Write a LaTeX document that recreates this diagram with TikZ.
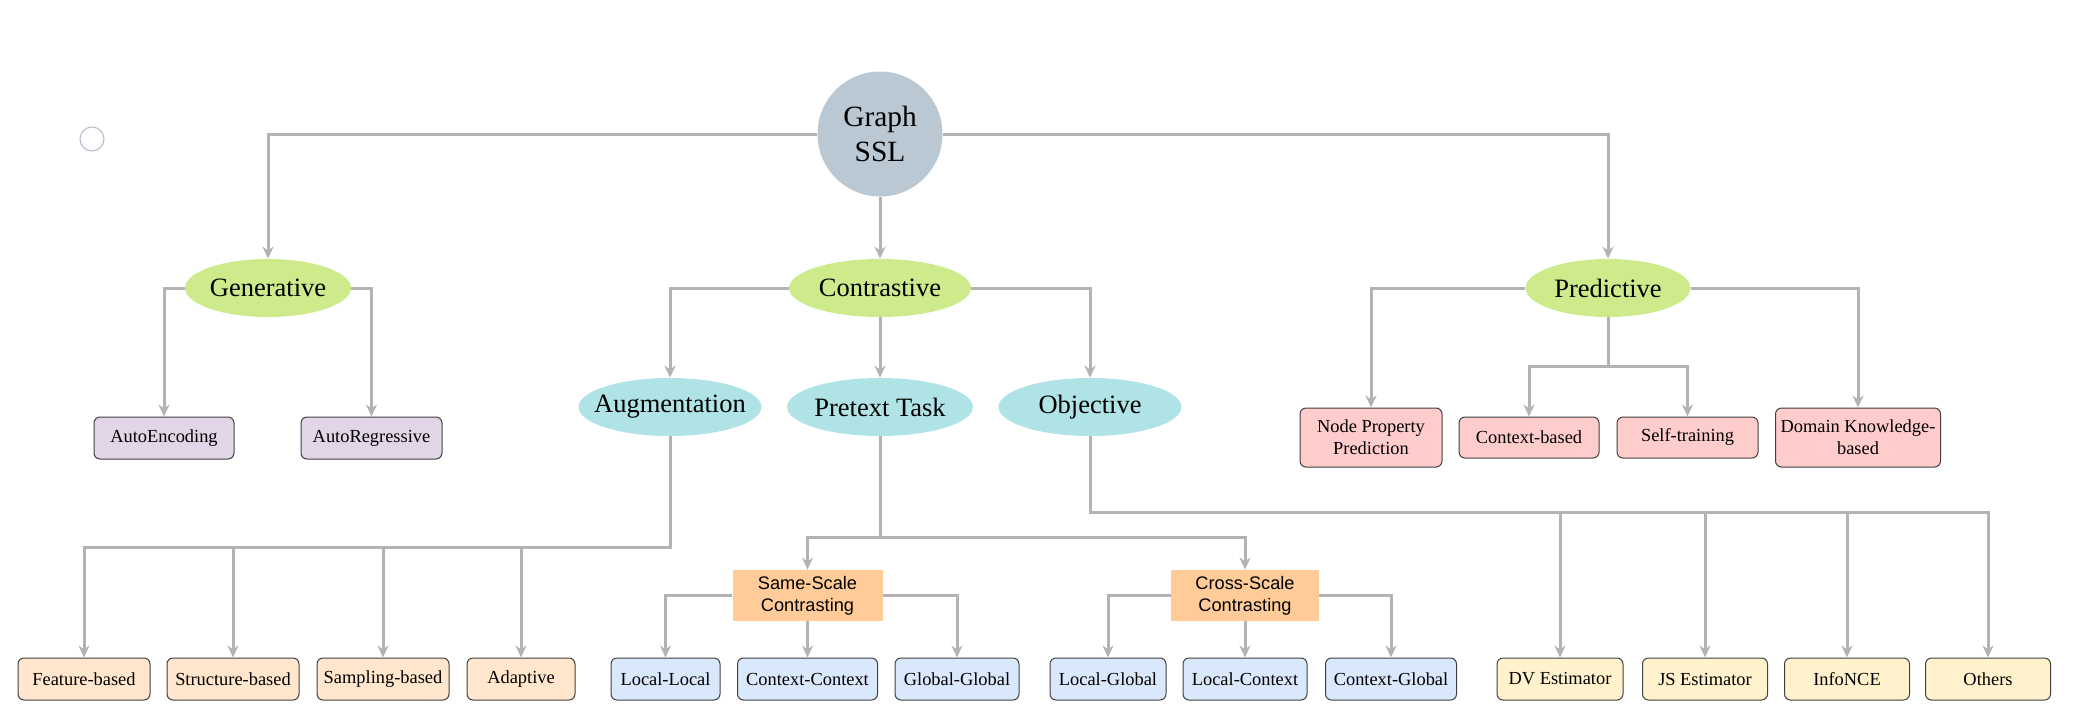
\documentclass[tikz,border=0pt]{standalone}
\usepackage{fontspec}
\setmainfont{Liberation Serif}
\newfontfamily\arialfont{Liberation Sans}
\usetikzlibrary{arrows.meta,shapes.geometric}

\definecolor{linegray}{HTML}{B3B3B3}
\definecolor{rootblue}{HTML}{BAC8D3}
\definecolor{topgreen}{HTML}{CDEB8B}
\definecolor{midcyan}{HTML}{B0E3E6}
\definecolor{boxpurple}{HTML}{E1D5E7}
\definecolor{boxpeach}{HTML}{FFE6CC}
\definecolor{boxblue}{HTML}{DAE8FC}
\definecolor{boxpink}{HTML}{FFCCCC}
\definecolor{boxyellow}{HTML}{FFF2CC}
\definecolor{scaleorange}{HTML}{FFCC99}
\definecolor{ringgray}{HTML}{B8B6CA}

\tikzset{
    link/.style={draw=linegray, line width=1.5pt, -{Stealth[length=6pt,width=5.5pt]}},
    root/.style={circle, fill=rootblue, minimum size=62.5pt, inner sep=0pt, align=center,
        font=\fontsize{14.7}{17.5}\selectfont},
    topell/.style={ellipse, fill=topgreen, minimum height=29pt, inner sep=0pt,
        font=\fontsize{13.25}{16}\selectfont},
    midell/.style={ellipse, fill=midcyan, minimum width=91.5pt, minimum height=29pt, inner sep=0pt,
        font=\fontsize{13.25}{16}\selectfont},
    leaf/.style={rectangle, rounded corners=3pt, draw=black!75, line width=0.5pt,
        minimum height=21pt, inner sep=0pt, align=center, font=\fontsize{9.2}{11}\selectfont},
    scalebox/.style={rectangle, fill=scaleorange, minimum width=75pt, minimum height=25.5pt,
        inner sep=0pt, align=center, font=\arialfont\fontsize{9.1}{11}\selectfont}
}

\begin{document}
\begin{tikzpicture}[x=0.5pt,y=-0.5pt]
    \useasboundingbox (0,0) rectangle (2083,728);
    \draw[draw=ringgray, line width=0.5pt] (92,139) circle (6pt);

    \node[root] (ssl) at (880,134) {Graph\\SSL};

    \node[topell, minimum width=83pt] (gen) at (268,288) {Generative};
    \node[topell, minimum width=91pt] (con) at (880,288) {Contrastive};
    \node[topell, minimum width=82.5pt] (pred) at (1608,288) {Predictive};

    \node[leaf, fill=boxpurple, minimum width=70pt] (ae) at (164,438) {AutoEncoding};
    \node[leaf, fill=boxpurple, minimum width=70.5pt] (ar) at (371.5,438) {AutoRegressive};

    \node[midell] (aug) at (670,407) {\makebox[0pt]{Augmentation}};
    \node[midell] (pre) at (880,407) {Pretext Task};
    \node[midell] (obj) at (1090,407) {Objective};

    \node[leaf, fill=boxpink, minimum width=71pt, minimum height=29.5pt] (npp) at (1371,437.5) {Node Property\\Prediction};
    \node[leaf, fill=boxpink, minimum width=70pt, minimum height=20.5pt] (ctxb) at (1529,437.5) {Context-based};
    \node[leaf, fill=boxpink, minimum width=70.5pt, minimum height=20.5pt] (selft) at (1687.5,437.5) {Self-training};
    \node[leaf, fill=boxpink, minimum width=82.5pt, minimum height=29.5pt] (dk) at (1858,437.5) {Domain Knowledge-\\based};

    \node[scalebox] (same) at (807.5,595.5) {Same-Scale\\Contrasting};
    \node[scalebox, minimum width=74pt] (cross) at (1245,595.5) {Cross-Scale\\Contrasting};

    \node[leaf, fill=boxpeach, minimum width=66pt] (feat) at (84,679) {Feature-based};
    \node[leaf, fill=boxpeach, minimum width=66pt] (struc) at (233,679) {Structure-based};
    \node[leaf, fill=boxpeach, minimum width=66pt] (samp) at (383,679) {Sampling-based};
    \node[leaf, fill=boxpeach, minimum width=54pt] (adapt) at (521,679) {Adaptive};

    \node[leaf, fill=boxblue, minimum width=54.5pt] (ll) at (665.5,679) {Local-Local};
    \node[leaf, fill=boxblue, minimum width=70pt] (cc) at (807.5,679) {Context-Context};
    \node[leaf, fill=boxblue, minimum width=62pt] (gg) at (957,679) {Global-Global};
    \node[leaf, fill=boxblue, minimum width=58pt] (lg) at (1108,679) {Local-Global};
    \node[leaf, fill=boxblue, minimum width=62pt] (lc) at (1245,679) {Local-Context};
    \node[leaf, fill=boxblue, minimum width=65.5pt] (cg) at (1391,679) {Context-Global};

    \node[leaf, fill=boxyellow, minimum width=63pt] (dv) at (1560,679) {DV Estimator};
    \node[leaf, fill=boxyellow, minimum width=62.5pt] (js) at (1705,679) {JS Estimator};
    \node[leaf, fill=boxyellow, minimum width=62.5pt] (nce) at (1847,679) {InfoNCE};
    \node[leaf, fill=boxyellow, minimum width=62.5pt] (oth) at (1988,679) {Others};

    \coordinate (augbus) at (670,547);
    \coordinate (prebus) at (880,537);
    \coordinate (objbus) at (1090,512);
    \coordinate (predbus) at (1608,366);

    \draw[link] (ssl.west) -| (gen.north);
    \draw[link] (ssl.south) -- (con.north);
    \draw[link] (ssl.east) -| (pred.north);

    \draw[link] (gen.west) -| (ae.north);
    \draw[link] (gen.east) -| (ar.north);

    \draw[link] (con.west) -| (aug.north);
    \draw[link] (con.south) -- (pre.north);
    \draw[link] (con.east) -| (obj.north);

    \draw[link] (pred.west) -| (npp.north);
    \draw[link] (pred.east) -| (dk.north);
    \foreach \n in {ctxb,selft}
        \draw[link] (pred.south) -- (predbus) -| (\n.north);

    \foreach \n in {feat,struc,samp,adapt}
        \draw[link] (aug.south) -- (augbus) -| (\n.north);

    \foreach \n in {same,cross}
        \draw[link] (pre.south) -- (prebus) -| (\n.north);

    \draw[link] (same.west) -| (ll.north);
    \draw[link] (same.south) -- (cc.north);
    \draw[link] (same.east) -| (gg.north);

    \draw[link] (cross.west) -| (lg.north);
    \draw[link] (cross.south) -- (lc.north);
    \draw[link] (cross.east) -| (cg.north);

    \foreach \n in {dv,js,nce,oth}
        \draw[link] (obj.south) -- (objbus) -| (\n.north);
\end{tikzpicture}
\end{document}
